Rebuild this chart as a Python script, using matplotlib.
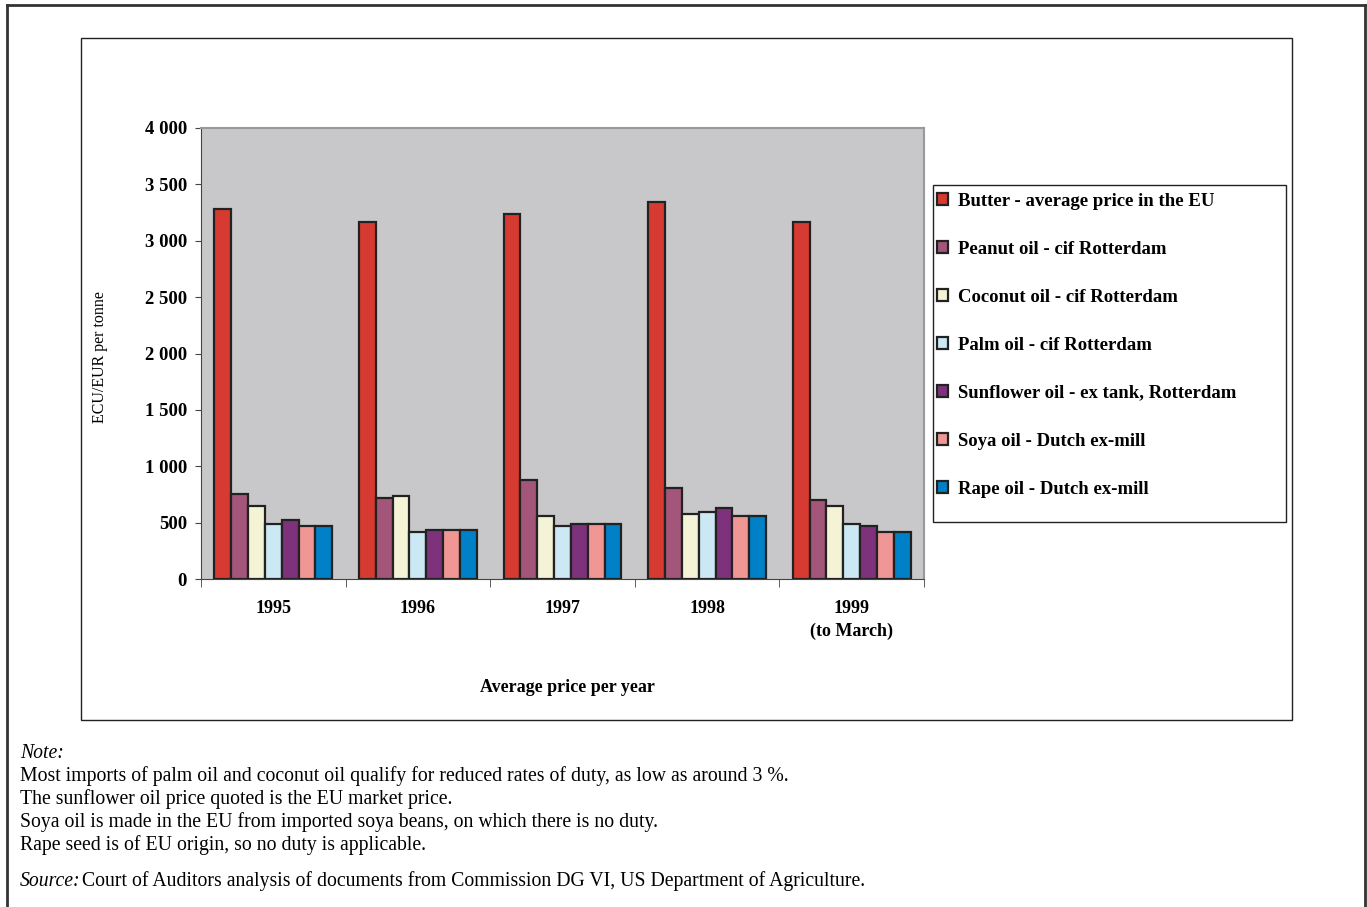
import matplotlib
matplotlib.use("Agg")
import matplotlib.pyplot as plt
from matplotlib.patches import Rectangle
from matplotlib.lines import Line2D
import numpy as np

plt.rcParams['font.family'] = ['Liberation Serif', 'DejaVu Serif']

# data (ECU/EUR per tonne)
years = ["1995", "1996", "1997", "1998", "1999\n(to March)"]
butter = [3285, 3165, 3240, 3340, 3165]
peanut = [755, 720, 878, 807, 698]
coconut = [648, 736, 559, 579, 648]
palm = [485, 420, 470, 594, 488]
sunflower = [523, 435, 490, 630, 470]
soya = [470, 435, 490, 556, 417]
rape = [470, 435, 490, 556, 417]

series_names = ["Butter - average price in the EU",
                "Peanut oil - cif Rotterdam",
                "Coconut oil - cif Rotterdam",
                "Palm oil - cif Rotterdam",
                "Sunflower oil - ex tank, Rotterdam",
                "Soya oil - Dutch ex-mill",
                "Rape oil - Dutch ex-mill"]
series_colors = ["#D63A30", "#A3567A", "#F4F3D6", "#CBE8F4",
                 "#7E327C", "#F09796", "#0080C6"]
all_series = [butter, peanut, coconut, palm, sunflower, soya, rape]

W, H = 1367, 907
fig = plt.figure(figsize=(W / 100, H / 100), dpi=100)

# outer page frame and inner chart frame
fig.add_artist(Line2D([7 / W, 7 / W], [0, 1 - 5 / H], color="#333333", lw=2))
fig.add_artist(Line2D([7 / W, 1365 / W], [1 - 5 / H, 1 - 5 / H], color="#333333", lw=2))
fig.add_artist(Line2D([1365 / W, 1365 / W], [0, 1 - 5 / H], color="#333333", lw=2))
fig.add_artist(Rectangle((81 / W, 1 - 720 / H), (1292 - 81) / W, (720 - 38) / H,
                         transform=fig.transFigure, fill=False, ec="#222222", lw=1.0))

ax = fig.add_axes([201 / W, 1 - 579 / H, (924 - 201) / W, (579 - 128) / H])
ax.set_facecolor("#C8C8CA")

x = np.arange(len(years))
n = len(all_series)
group_w = 0.816
bw = group_w / n
for i, (vals, name, col) in enumerate(zip(all_series, series_names, series_colors)):
    ax.bar(x - group_w / 2 + bw * (i + 0.5), vals, width=bw, color=col,
           edgecolor="#222222", linewidth=1.6, label=name, zorder=3)

ax.set_xlim(-0.5, len(years) - 0.5)
ax.set_ylim(0, 4000)
ax.set_yticks(np.arange(0, 4001, 500))
ax.set_yticklabels([f"{v:,}".replace(",", " ") for v in range(0, 4001, 500)],
                   fontsize=13.5, fontweight="bold")
ax.set_xticks(x)
ax.set_xticklabels(years, fontsize=13, fontweight="bold", linespacing=1.45)
ax.tick_params(axis="x", length=0, pad=15)
ax.set_xticks(np.arange(-0.5, len(years)), minor=True)
ax.tick_params(axis="x", which="minor", length=6, color="#444444")
ax.tick_params(axis="y", length=4, color="#444444", pad=6)
for s in ["top", "right"]:
    ax.spines[s].set_color("#999999")
    ax.spines[s].set_linewidth(1.5)
for s in ["left", "bottom"]:
    ax.spines[s].set_color("#444444")

fig.text(100 / W, 1 - 357 / H, "ECU/EUR per tonne", rotation=90, fontsize=11.5,
         ha="center", va="center")
fig.text(567 / W, 1 - 688 / H, "Average price per year", fontsize=13,
         fontweight="bold", ha="center", va="center")

# legend box
fig.add_artist(Rectangle((933 / W, 1 - 522 / H), (1286 - 933) / W, (522 - 185) / H,
                         transform=fig.transFigure, fill=False, ec="#222222", lw=1.0))
handles, labels = ax.get_legend_handles_labels()
leg = fig.legend(handles, labels, loc="upper left",
                 bbox_to_anchor=(920 / W, 1 - 176 / H), frameon=False,
                 prop={"size": 13.5, "weight": "bold"}, handlelength=0.6,
                 handleheight=0.6, handletextpad=0.5, labelspacing=1.65)

notes = ["Most imports of palm oil and coconut oil qualify for reduced rates of duty, as low as around 3 %.",
         "The sunflower oil price quoted is the EU market price.",
         "Soya oil is made in the EU from imported soya beans, on which there is no duty.",
         "Rape seed is of EU origin, so no duty is applicable."]
note_fs = 14.2
fig.text(20 / W, 1 - 753 / H, "Note:", fontsize=note_fs, style="italic", va="center")
for k, line in enumerate(notes):
    fig.text(20 / W, 1 - (776 + 23 * k) / H, line, fontsize=note_fs, va="center")
fig.text(20 / W, 1 - 881 / H, "Source:", fontsize=note_fs, style="italic", va="center")
fig.text(82 / W, 1 - 881 / H,
         "Court of Auditors analysis of documents from Commission DG VI, US Department of Agriculture.",
         fontsize=note_fs, va="center")

fig.savefig("out.png", dpi=100)
